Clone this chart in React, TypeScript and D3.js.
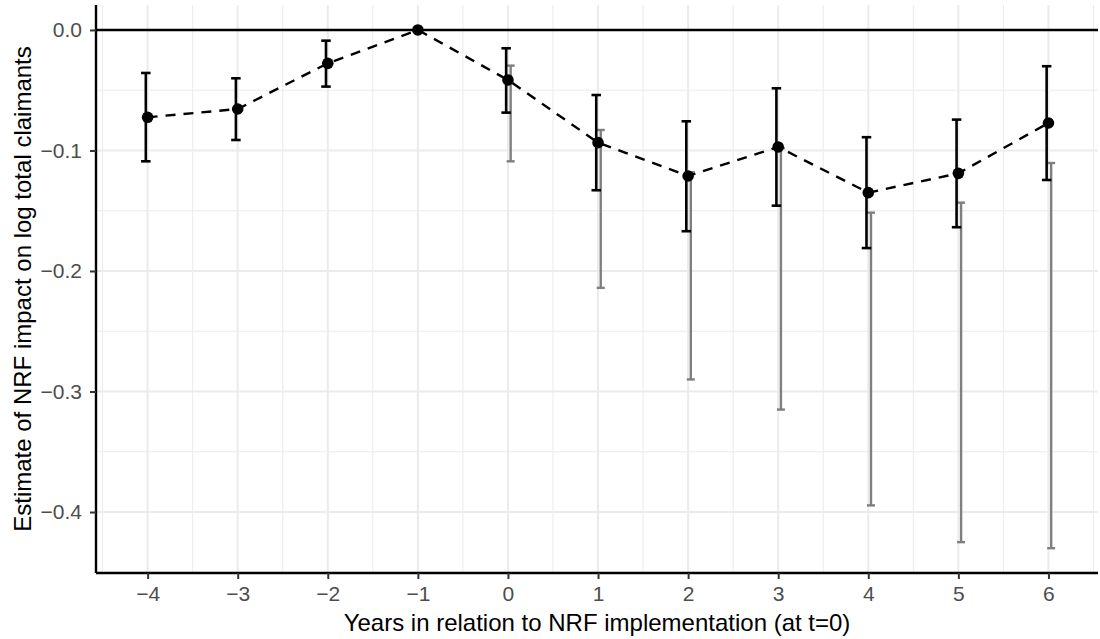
import { useEffect, useRef } from "react";
import * as d3 from "d3";

const years = [-4, -3, -2, -1, 0, 1, 2, 3, 4, 5, 6];
const estimates = [-0.0725, -0.0656, -0.0277, 0, -0.0415, -0.0935, -0.1212, -0.0971, -0.135, -0.119, -0.0772];
const ciLower = [-0.109, -0.0913, -0.047, null, -0.0686, -0.133, -0.167, -0.1458, -0.181, -0.1637, -0.1245];
const ciUpper = [-0.0357, -0.0401, -0.0089, null, -0.0152, -0.054, -0.0758, -0.0484, -0.089, -0.0744, -0.0301];

// wider intervals, only for the post-period
const altYears = [0, 1, 2, 3, 4, 5, 6];
const altLower = [-0.109, -0.214, -0.29, -0.315, -0.3945, -0.425, -0.43];
const altUpper = [-0.0296, -0.083, -0.118, -0.098, -0.1516, -0.1433, -0.1104];

const xTicks = [-4, -3, -2, -1, 0, 1, 2, 3, 4, 5, 6];
const yTicks = [0, -0.1, -0.2, -0.3, -0.4];

const xTitle = "Years in relation to NRF implementation (at t=0)";
const yTitle = "Estimate of NRF impact on log total claimants";

export default function App() {
  const ref = useRef<SVGSVGElement | null>(null);

  useEffect(() => {
    document.body.style.margin = "0";
    if (!ref.current) return;
    const svg = d3.select(ref.current);
    svg.selectAll("*").remove();

    const width = 1100;
    const height = 639;
    const panel = { left: 96, right: 1098, top: 5, bottom: 573 };
    const font = "Liberation Sans, Arial, Helvetica, sans-serif";

    const x = d3.scaleLinear().domain([-4.573, 6.55]).range([panel.left, panel.right]);
    const y = d3.scaleLinear().domain([0.0207, -0.4506]).range([panel.top, panel.bottom]);

    svg.attr("width", width).attr("height", height);
    svg.append("rect").attr("width", width).attr("height", height).attr("fill", "#fff");

    // minor grid
    const xMinor = d3.range(-4.5, 7, 1);
    const yMinor = [0.05, -0.05, -0.15, -0.25, -0.35, -0.45];
    const grid = svg.append("g");
    grid
      .selectAll("line.xm")
      .data(xMinor)
      .join("line")
      .attr("x1", (d) => x(d))
      .attr("x2", (d) => x(d))
      .attr("y1", panel.top)
      .attr("y2", panel.bottom)
      .attr("stroke", "#ebebeb")
      .attr("stroke-width", 1);
    grid
      .selectAll("line.ym")
      .data(yMinor.filter((d) => y(d) >= panel.top && y(d) <= panel.bottom))
      .join("line")
      .attr("x1", panel.left)
      .attr("x2", panel.right)
      .attr("y1", (d) => y(d))
      .attr("y2", (d) => y(d))
      .attr("stroke", "#ebebeb")
      .attr("stroke-width", 1);
    // major grid
    grid
      .append("g")
      .selectAll("line")
      .data(xTicks)
      .join("line")
      .attr("x1", (d) => x(d))
      .attr("x2", (d) => x(d))
      .attr("y1", panel.top)
      .attr("y2", panel.bottom)
      .attr("stroke", "#ebebeb")
      .attr("stroke-width", 2);
    grid
      .append("g")
      .selectAll("line")
      .data(yTicks)
      .join("line")
      .attr("x1", panel.left)
      .attr("x2", panel.right)
      .attr("y1", (d) => y(d))
      .attr("y2", (d) => y(d))
      .attr("stroke", "#ebebeb")
      .attr("stroke-width", 2);

    // reference line at zero
    svg
      .append("line")
      .attr("x1", panel.left)
      .attr("x2", panel.right)
      .attr("y1", y(0))
      .attr("y2", y(0))
      .attr("stroke", "#000")
      .attr("stroke-width", 2.4);

    const errorbar = (
      g: d3.Selection<SVGGElement, unknown, null, undefined>,
      xs: number[],
      lo: (number | null)[],
      hi: (number | null)[],
      offset: number,
      color: string,
      sw: number,
      cap: number
    ) => {
      xs.forEach((xv, i) => {
        const l = lo[i];
        const h = hi[i];
        if (l == null || h == null) return;
        const cx = x(xv + offset);
        g.append("line").attr("x1", cx).attr("x2", cx).attr("y1", y(h)).attr("y2", y(l))
          .attr("stroke", color).attr("stroke-width", sw);
        [l, h].forEach((v) => {
          g.append("line").attr("x1", cx - cap / 2).attr("x2", cx + cap / 2).attr("y1", y(v)).attr("y2", y(v))
            .attr("stroke", color).attr("stroke-width", sw);
        });
      });
    };

    errorbar(svg.append("g"), altYears, altLower, altUpper, 0.03, "#7f7f7f", 2.4, 8);
    errorbar(svg.append("g"), years, ciLower, ciUpper, -0.02, "#000", 2.6, 9.5);

    const line = d3
      .line<number>()
      .x((_, i) => x(years[i]))
      .y((d) => y(d));
    svg
      .append("path")
      .datum(estimates)
      .attr("fill", "none")
      .attr("stroke", "#000")
      .attr("stroke-width", 2.4)
      .attr("stroke-dasharray", "10 8")
      .attr("d", line);

    svg
      .append("g")
      .selectAll("circle")
      .data(estimates)
      .join("circle")
      .attr("cx", (_, i) => x(years[i]))
      .attr("cy", (d) => y(d))
      .attr("r", 5.8)
      .attr("fill", "#000");

    // axes
    const xAxis = svg
      .append("g")
      .attr("transform", `translate(0,${panel.bottom})`)
      .call(d3.axisBottom(x).tickValues(xTicks).tickSize(6).tickPadding(7).tickSizeOuter(0).tickFormat((d) => d3.format("d")(d as number).replace("-", "−")));
    xAxis.select(".domain").attr("stroke", "#000").attr("stroke-width", 2.4).attr("d", `M${panel.left},0H${panel.right}`);
    xAxis.selectAll(".tick line").attr("stroke", "#333").attr("stroke-width", 2);
    xAxis.selectAll(".tick text").attr("fill", "#4d4d4d").attr("font-size", 21).attr("font-family", font);

    const yAxis = svg
      .append("g")
      .attr("transform", `translate(${panel.left},0)`)
      .call(d3.axisLeft(y).tickValues(yTicks).tickSize(6).tickPadding(8).tickSizeOuter(0).tickFormat((d) => d3.format(".1f")(d as number).replace("-", "−")));
    yAxis.select(".domain").attr("stroke", "#000").attr("stroke-width", 2.4).attr("d", `M0,${panel.top}V${panel.bottom}`);
    yAxis.selectAll(".tick line").attr("stroke", "#333").attr("stroke-width", 2);
    yAxis.selectAll(".tick text").attr("fill", "#4d4d4d").attr("font-size", 21).attr("font-family", font);

    svg
      .append("text")
      .attr("x", (panel.left + panel.right) / 2)
      .attr("y", 631)
      .attr("text-anchor", "middle")
      .attr("font-size", 24)
      .attr("font-family", font)
      .attr("fill", "#000")
      .text(xTitle);

    svg
      .append("text")
      .attr("transform", `translate(31,${(panel.top + panel.bottom) / 2}) rotate(-90)`)
      .attr("text-anchor", "middle")
      .attr("font-size", 24)
      .attr("font-family", font)
      .attr("fill", "#000")
      .text(yTitle);
  }, []);

  return <svg ref={ref} style={{ display: "block" }} />;
}
